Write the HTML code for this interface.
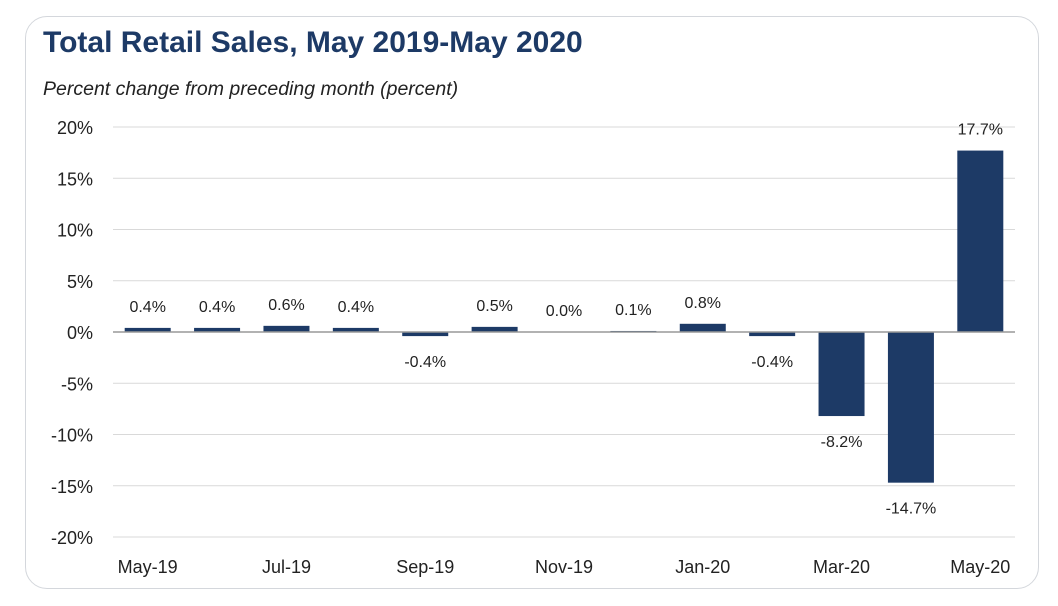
<!DOCTYPE html>
<html><head><meta charset="utf-8"><style>
body{margin:0;width:1058px;height:606px;background:#fff;font-family:"Liberation Sans",sans-serif;overflow:hidden}
#card{position:absolute;left:25px;top:16px;width:1014px;height:573px;border:1.5px solid #d4d7dc;border-radius:22px;box-sizing:border-box}
#title{position:absolute;left:43px;top:26px;font-size:30px;font-weight:bold;color:#1d3a66}
#sub{position:absolute;left:43px;top:78px;font-size:19.5px;font-style:italic;color:#222}
svg{position:absolute;left:0;top:0}
</style></head><body>
<div id="card"></div>
<div id="title">Total Retail Sales, May 2019-May 2020</div>
<div id="sub">Percent change from preceding month (percent)</div>
<svg id="chart" width="1058" height="606"></svg>
<script>
const categories=["May-19","Jun-19","Jul-19","Aug-19","Sep-19","Oct-19","Nov-19","Dec-19","Jan-20","Feb-20","Mar-20","Apr-20","May-20"];
const values=[0.4,0.4,0.6,0.4,-0.4,0.5,0.0,0.1,0.8,-0.4,-8.2,-14.7,17.7];
const yTicks=[20,15,10,5,0,-5,-10,-15,-20];
const ns="http://www.w3.org/2000/svg";
const svg=document.getElementById('chart');
const y=v=>332-v*10.25;
const x0=113,x1=1015,step=(x1-x0)/13;
const xc=i=>x0+step*(i+0.5);
function mk(t,a,txt){const e=document.createElementNS(ns,t);for(const k in a)e.setAttribute(k,a[k]);if(txt!=null)e.textContent=txt;svg.appendChild(e);return e;}
yTicks.forEach(t=>{
 if(t!==0){const g=mk('line',{x1:x0,x2:x1,y1:y(t),y2:y(t),stroke:'#d9d9d9','stroke-width':1});
 
 }
 const l=mk('text',{x:93,y:y(t)+7,'text-anchor':'end','font-size':18,fill:'#222'},t+'%');
 
 
});
values.forEach((v,i)=>{
 const b=mk('rect',{x:xc(i)-23,width:46,y:Math.min(y(v),y(0)),height:Math.max(Math.abs(y(v)-y(0)),0.5),fill:'#1d3a66'});
 
 
 const ly=v>=0?y(v)-22:y(v)+25;
 const l=mk('text',{x:xc(i),y:ly+6,'text-anchor':'middle','font-size':16,fill:'#222'},v.toFixed(1)+'%');
 
 
 if(i%2===0){const c=mk('text',{x:xc(i),y:573,'text-anchor':'middle','font-size':18,fill:'#222'},categories[i]);
 
 }
});
const z=mk('line',{x1:x0,x2:x1,y1:y(0),y2:y(0),stroke:'#999','stroke-width':1.5});


</script>
</body></html>
